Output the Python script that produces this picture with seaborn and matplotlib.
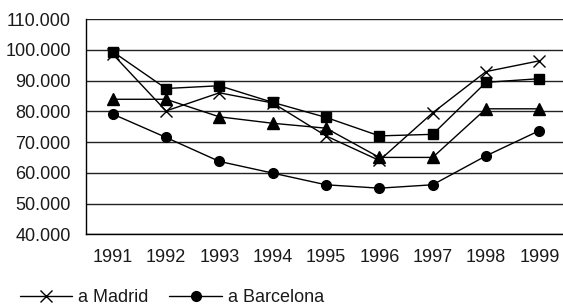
import matplotlib
matplotlib.use("Agg")
import matplotlib.pyplot as plt
import seaborn as sns
import pandas as pd
from matplotlib.ticker import FuncFormatter, MultipleLocator

years = [1991, 1992, 1993, 1994, 1995, 1996, 1997, 1998, 1999]
madrid = [98600, 80100, 86000, 82700, 72000, 64000, 79500, 92900, 96400]
barcelona = [79100, 71500, 63700, 59900, 56100, 55000, 56100, 65500, 73700]
serie_cuadrado = [99400, 87400, 88300, 82900, 78000, 72000, 72500, 89400, 90600]
serie_triangulo = [83900, 83900, 78200, 76100, 74500, 65000, 65000, 80800, 80800]

series = [
    ("a Madrid", madrid, "x", 9),
    ("a Barcelona", barcelona, "o", 7),
    ("serie 3", serie_cuadrado, "s", 7),
    ("serie 4", serie_triangulo, "^", 8),
]

sns.set_style("white")
plt.rcParams["font.family"] = ["Liberation Sans", "DejaVu Sans"]
FS = 13
TXT = "#1a1a1a"

fig = plt.figure(figsize=(5.63, 3.05), dpi=100)
ax = fig.add_axes([86 / 563, 1 - 234.3 / 305, 480 / 563, 215.3 / 305])

handles = {}
for name, vals, mk, ms in series:
    df = pd.DataFrame({"year": years, "value": vals})
    sns.lineplot(data=df, x="year", y="value", ax=ax, color="black", lw=1,
                 marker=mk, markersize=ms, markeredgewidth=1,
                 markerfacecolor="black", markeredgecolor="black")
    handles[name] = ax.lines[-1]

ax.set_xlim(1990.5, 1999.5)
ax.set_ylim(40000, 110000)
ax.yaxis.set_major_locator(MultipleLocator(10000))
ax.yaxis.set_major_formatter(FuncFormatter(lambda v, p: f"{int(v):,}".replace(",", ".")))
ax.set_xticks(years)
ax.set_xticks([y + 0.5 for y in years[:-1]], minor=True)
ax.tick_params(axis="x", which="major", length=0, pad=10.5, labelsize=FS, labelcolor=TXT)
ax.tick_params(axis="x", which="minor", length=4, width=1, color="black", direction="out")
ax.tick_params(axis="y", length=4, width=1, color="black", direction="out", labelsize=FS,
               pad=7, labelcolor=TXT)
ax.set_xlabel("")
ax.set_ylabel("")

ax.grid(axis="y", color="#222", lw=1)
ax.grid(axis="x", visible=False)
for s in ["top", "right"]:
    ax.spines[s].set_visible(False)
for s in ["left", "bottom"]:
    ax.spines[s].set_color("black")
    ax.spines[s].set_linewidth(1)

leg = fig.legend([handles["a Madrid"], handles["a Barcelona"]], ["a Madrid", "a Barcelona"],
                 loc="lower left", bbox_to_anchor=(20 / 563, -1 / 305), ncol=2, frameon=False,
                 fontsize=FS, handlelength=2.9, handletextpad=0.33, columnspacing=1.15,
                 borderpad=0, borderaxespad=0)
for t in leg.get_texts():
    t.set_color(TXT)

fig.savefig("out.png", dpi=100)
